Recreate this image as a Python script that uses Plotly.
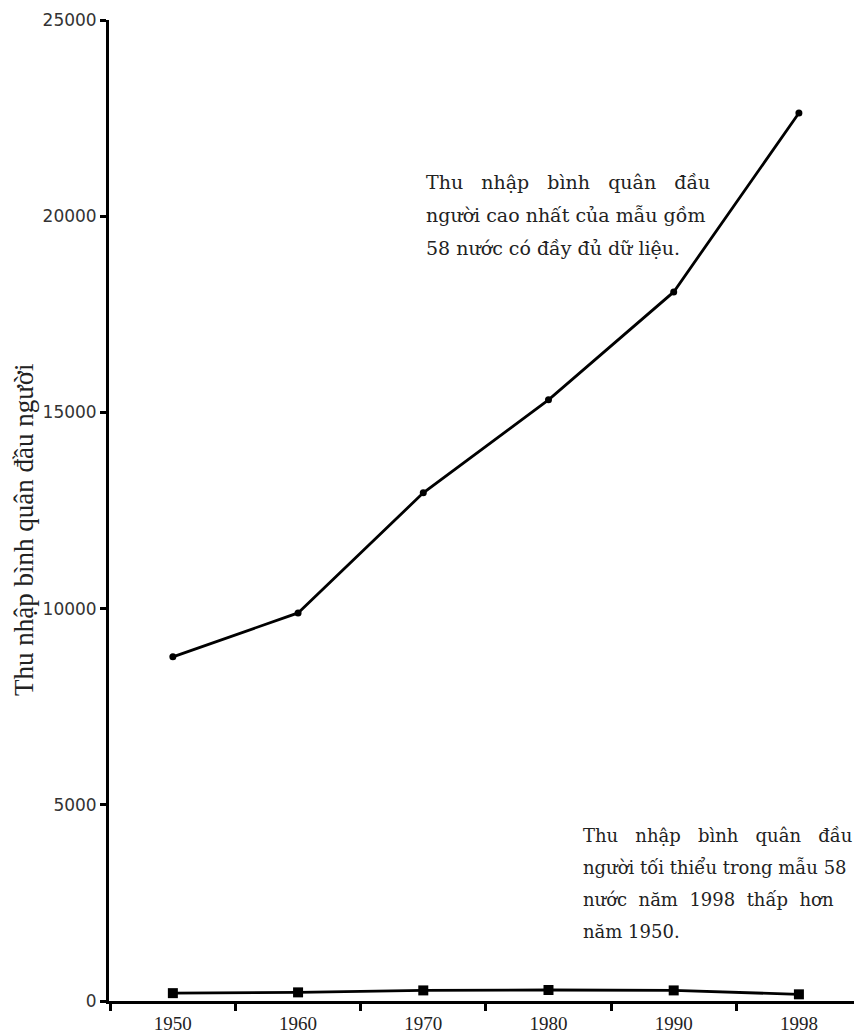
import plotly.graph_objects as go

years = ["1950", "1960", "1970", "1980", "1990", "1998"]
highest = [8770, 9890, 12950, 15320, 18070, 22630]
lowest = [200, 220, 270, 280, 270, 170]
y_ticks = [0, 5000, 10000, 15000, 20000, 25000]
y_labels = ["0", "5000", "10000", "15000", "20000", "25000"]

note_high = ["Thu\u00a0\u00a0 nhập\u00a0\u00a0 bình\u00a0\u00a0 quân\u00a0\u00a0 đầu",
             "người cao nhất của mẫu gồm",
             "58 nước có đầy đủ dữ liệu."]
note_low = ["Thu\u00a0\u00a0 nhập\u00a0\u00a0 bình\u00a0\u00a0 quân\u00a0\u00a0 đầu",
            "người tối thiểu trong mẫu 58",
            "nước\u00a0 năm\u00a0 1998\u00a0 thấp\u00a0 hơn",
            "năm 1950."]

SERIF = "DejaVu Serif"
W, H = 846, 1036
TOP, BOTTOM, LEFT, RIGHT = 20, 1001, 109, 854


def px_x(px):
    return (px - LEFT) / (RIGHT - LEFT)


def px_y(py):
    return (BOTTOM - py) / (BOTTOM - TOP)


fig = go.Figure()
fig.add_trace(go.Scatter(x=years, y=highest, mode="lines+markers",
                         line=dict(color="black", width=2.8),
                         marker=dict(symbol="circle", size=7, color="black")))
fig.add_trace(go.Scatter(x=years, y=lowest, mode="lines+markers",
                         line=dict(color="black", width=2.8),
                         marker=dict(symbol="square", size=10, color="black")))

for i, line in enumerate(note_high):
    fig.add_annotation(text=line, xref="paper", yref="paper",
                       x=px_x(424), y=px_y(182 + 33 * i), xanchor="left", yanchor="middle",
                       showarrow=False, font=dict(family=SERIF, size=19, color="#222"))
for i, line in enumerate(note_low):
    fig.add_annotation(text=line, xref="paper", yref="paper",
                       x=px_x(581), y=px_y(835 + 32 * i), xanchor="left", yanchor="middle",
                       showarrow=False, font=dict(family=SERIF, size=18, color="#222"))

fig.add_annotation(text="Thu nhập bình quân đầu người", xref="paper", yref="paper",
                   x=px_x(24), y=px_y(530), xanchor="center", yanchor="middle", textangle=-90,
                   showarrow=False, font=dict(family="Liberation Serif", size=27, color="#222"))

fig.update_xaxes(type="category", range=[-0.51, 5.44], showline=True, linecolor="black",
                 linewidth=2.8, ticks="outside", tickson="boundaries", ticklen=7,
                 tickwidth=2.5, tickcolor="black", showgrid=False, zeroline=False,
                 automargin=False, ticklabelstandoff=3,
                 tickfont=dict(family="Liberation Serif", size=19, color="#222"))
fig.update_yaxes(range=[0, 25000], tickvals=y_ticks, ticktext=y_labels, showline=True,
                 linecolor="black", linewidth=2.8, ticks="outside", ticklen=6,
                 tickwidth=2.5, tickcolor="black", showgrid=False, zeroline=False,
                 automargin=False,
                 tickfont=dict(family="DejaVu Sans", size=17, color="#333"))

# body has an 8px margin; keep the figure narrow enough that nothing is cut at the right
fig.update_layout(width=W, height=H, showlegend=False,
                  margin=dict(l=LEFT - 8, r=W + 8 - RIGHT, t=TOP - 8, b=H + 8 - BOTTOM),
                  paper_bgcolor="white", plot_bgcolor="white")

fig.write_html("out.html")
